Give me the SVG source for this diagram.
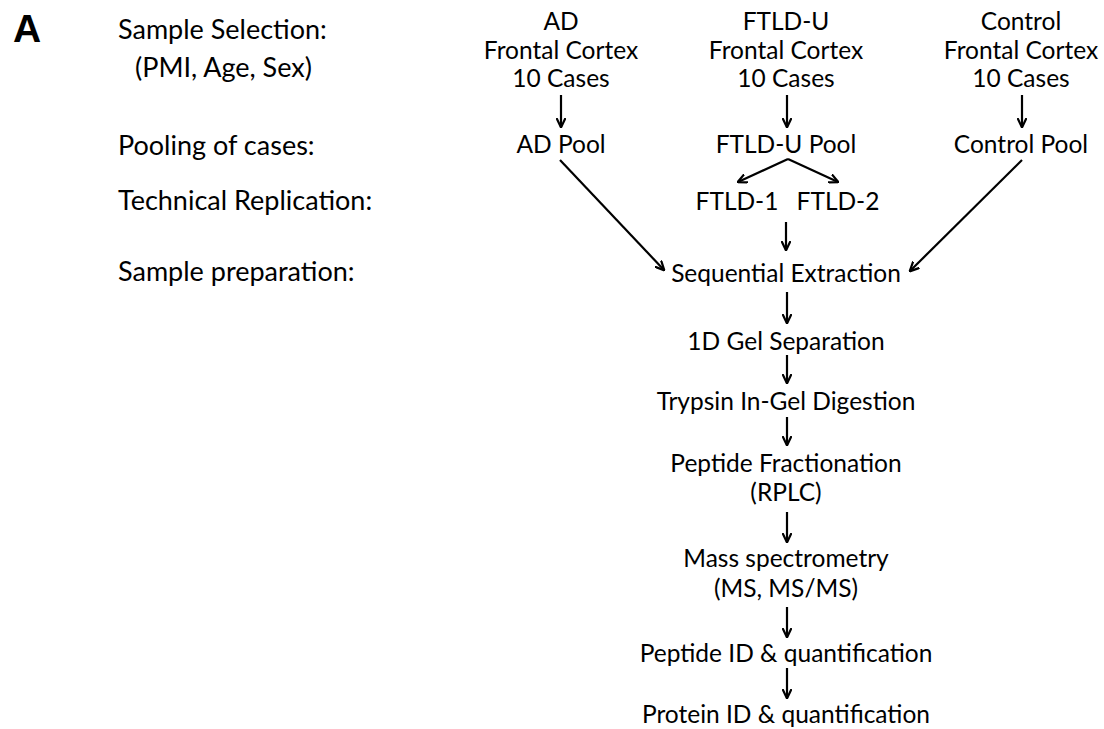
<svg xmlns="http://www.w3.org/2000/svg" width="1104" height="729" viewBox="0 0 1104 729">
<style>
text{font-family:Lato,"Open Sans","Liberation Sans",sans-serif;fill:#000}
.lab{font-size:27px}
.n{font-size:24.5px;text-anchor:middle}
.big{font-family:"Liberation Sans",Arial,sans-serif;font-weight:bold;font-size:39px}
.c{fill:none;stroke:#000;stroke-width:2.2;marker-end:url(#ah)}
</style>
<defs>
<marker id="ah" viewBox="0 0 10 10" refX="9" refY="5" markerWidth="10" markerHeight="10" markerUnits="userSpaceOnUse" orient="auto">
<path d="M0,0.5 L9.5,5 L0,9.5" fill="none" stroke="#000" stroke-width="2.2"/>
</marker>
</defs>
<rect width="1104" height="729" fill="#fff"/>
<g id="labels">
<text class="big" x="13" y="42">A</text>
<text class="lab" x="118" y="39">Sample Selection:</text>
<text class="lab" x="135" y="77">(PMI, Age, Sex)</text>
<text class="lab" x="118" y="155">Pooling of cases:</text>
<text class="lab" x="118" y="210">Technical Replication:</text>
<text class="lab" x="118" y="281">Sample preparation:</text>
</g>
<g id="ad-cases"><text class="n" x="561" y="30">AD</text><text class="n" x="561" y="58.5">Frontal Cortex</text><text class="n" x="561" y="87">10 Cases</text></g>
<g id="ftld-cases"><text class="n" x="786" y="30">FTLD-U</text><text class="n" x="786" y="58.5">Frontal Cortex</text><text class="n" x="786" y="87">10 Cases</text></g>
<g id="ctrl-cases"><text class="n" x="1021" y="30">Control</text><text class="n" x="1021" y="58.5">Frontal Cortex</text><text class="n" x="1021" y="87">10 Cases</text></g>
<g id="ad-pool"><text class="n" x="561" y="153">AD Pool</text></g>
<g id="ftld-pool"><text class="n" x="786" y="153">FTLD-U Pool</text></g>
<g id="ctrl-pool"><text class="n" x="1021" y="153">Control Pool</text></g>
<g id="ftld1"><text class="n" x="737" y="210">FTLD-1</text></g>
<g id="ftld2"><text class="n" x="838" y="210">FTLD-2</text></g>
<g id="seq"><text class="n" x="786" y="282">Sequential Extraction</text></g>
<g id="gel"><text class="n" x="786" y="350">1D Gel Separation</text></g>
<g id="trypsin"><text class="n" x="786" y="410">Trypsin In-Gel Digestion</text></g>
<g id="frac"><text class="n" x="786" y="472">Peptide Fractionation</text><text class="n" x="786" y="501">(RPLC)</text></g>
<g id="ms"><text class="n" x="786" y="567">Mass spectrometry</text><text class="n" x="786" y="597">(MS, MS/MS)</text></g>
<g id="pepid"><text class="n" x="786" y="662">Peptide ID &amp; quantification</text></g>
<g id="protid"><text class="n" x="786" y="723">Protein ID &amp; quantification</text></g>
<g id="connectors">
<line class="c" x1="561" y1="95" x2="561" y2="127"/>
<line class="c" x1="787" y1="95" x2="787" y2="127"/>
<line class="c" x1="1022" y1="95" x2="1022" y2="127"/>
<line class="c" x1="788" y1="159" x2="738" y2="182"/>
<line class="c" x1="788" y1="159" x2="838" y2="182"/>
<line class="c" x1="786" y1="222" x2="786" y2="250"/>
<line class="c" x1="560" y1="160" x2="664" y2="270"/>
<line class="c" x1="1022" y1="160" x2="910" y2="271"/>
<line class="c" x1="787" y1="292" x2="787" y2="323"/>
<line class="c" x1="787" y1="355" x2="787" y2="383"/>
<line class="c" x1="787" y1="417" x2="787" y2="445"/>
<line class="c" x1="787" y1="512" x2="787" y2="542"/>
<line class="c" x1="787" y1="607" x2="787" y2="637"/>
<line class="c" x1="787" y1="668" x2="787" y2="698"/>
</g>
</svg>
